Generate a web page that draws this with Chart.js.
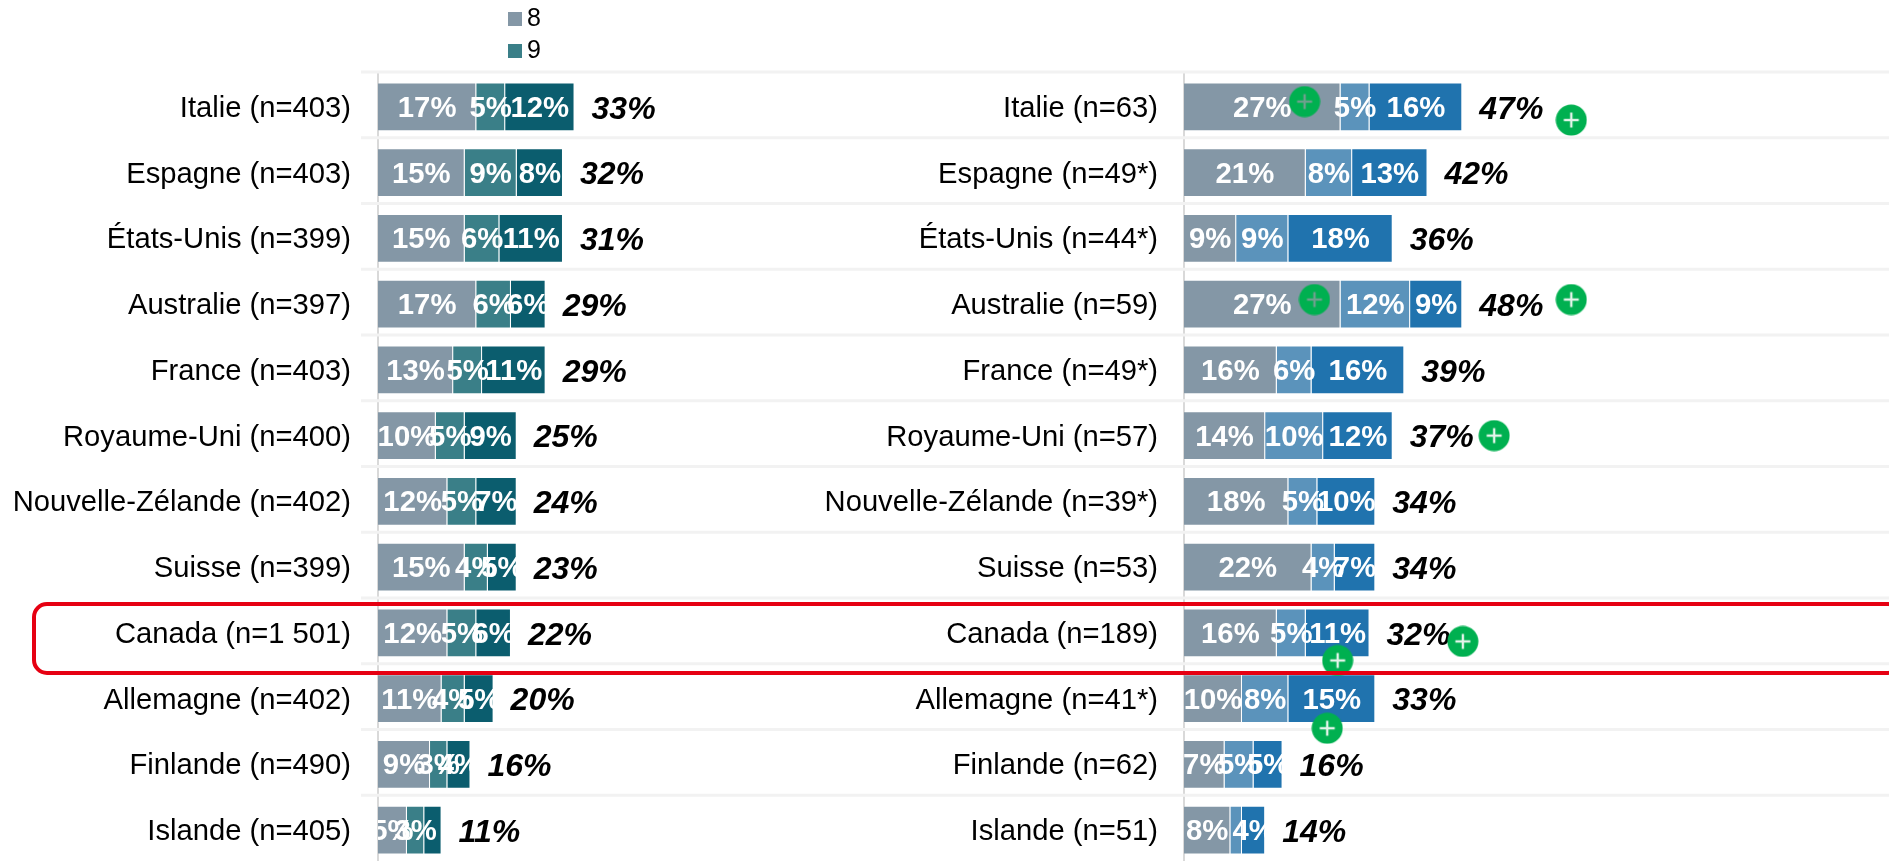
<!DOCTYPE html>
<html lang="fr">
<head>
<meta charset="utf-8">
<title>Chart</title>
<script src="https://cdn.jsdelivr.net/npm/chart.js@4/dist/chart.umd.min.js"></script>
<style>
html,body{margin:0;padding:0;width:1889px;height:861px;overflow:hidden;background:#fff}
canvas{position:absolute;top:0;display:block}
#leftChart{left:0}
#rightChart,#marksChart{left:815px}
#highlight{position:absolute;left:32px;top:602px;width:1871px;height:73px;box-sizing:border-box;border:4px solid #E60012;border-radius:15px;pointer-events:none}
</style>
</head>
<body>
<canvas id="leftChart" width="815" height="863"></canvas>
<canvas id="rightChart" width="1074" height="863"></canvas>
<canvas id="marksChart" width="1074" height="863"></canvas>
<div id="highlight"></div>
<script>
const legendLabels = ['8', '9'];

const leftCategories = ['Italie (n=403)','Espagne (n=403)','États-Unis (n=399)','Australie (n=397)','France (n=403)','Royaume-Uni (n=400)','Nouvelle-Zélande (n=402)','Suisse (n=399)','Canada (n=1 501)','Allemagne (n=402)','Finlande (n=490)','Islande (n=405)'];
const left8  = [17,15,15,17,13,10,12,15,12,11,9,5];
const left9  = [5,9,6,6,5,5,5,4,5,4,3,3];
const left10 = [12,8,11,6,11,9,7,5,6,5,4,3];
const leftTotals = [33,32,31,29,29,25,24,23,22,20,16,11];
const leftHiddenLabels = [[],[],[],[],[],[],[],[],[],[],[],[2]]; // last segment of Islande carries no label

const rightCategories = ['Italie (n=63)','Espagne (n=49*)','États-Unis (n=44*)','Australie (n=59)','France (n=49*)','Royaume-Uni (n=57)','Nouvelle-Zélande (n=39*)','Suisse (n=53)','Canada (n=189)','Allemagne (n=41*)','Finlande (n=62)','Islande (n=51)'];
const right8  = [27,21,9,27,16,14,18,22,16,10,7,8];
const right9  = [5,8,9,12,6,10,5,4,5,8,5,2];
const right10 = [16,13,18,9,16,12,10,7,11,15,5,4];
const rightTotals = [47,42,36,48,39,37,34,34,32,33,16,14];
const rightHiddenLabels = [[],[],[],[],[],[],[],[],[],[],[],[1]]; // 2% segment of Islande carries no label

// significance marks, in chart units (percent along the bar, row index)
const markPercent = [20.8,66.8,22.5,66.8,53.5,48.1,26.5,24.7];
const markRow     = [-0.08,0.2,2.93,2.93,5.0,8.13,8.42,9.45];
const markInsideBar = [true,false,true,false,false,false,false,false];

const FONT = '"Liberation Sans", Arial, sans-serif';
const RIGHT_AXIS_WIDTH = 369;
const RIGHT_MAX = 121.6;

function plusIcon(plusColor){
  const c = document.createElement('canvas');
  c.width = 32; c.height = 32;
  const g = c.getContext('2d');
  g.fillStyle = '#00B050';
  g.beginPath(); g.arc(16,16,15.5,0,Math.PI*2); g.fill();
  g.fillStyle = plusColor;
  g.fillRect(8.5,14.8,15,2.4);
  g.fillRect(14.8,8.5,2.4,15);
  return c;
}
const iconWhite = plusIcon('#E4F4EA');
const iconGrey = plusIcon('#6FA08E');

const rowLines = {
  id:'rowLines',
  beforeDatasetsDraw(chart,args,opts){
    const {ctx,scales:{y},chartArea:a} = chart;
    const rowH = y.getPixelForValue(1)-y.getPixelForValue(0);
    ctx.save();
    ctx.strokeStyle = '#F2F2F2';
    ctx.lineWidth = 3;
    y.getLabels().forEach((_,i)=>{
      const py = y.getPixelForValue(i)-rowH/2-2;
      ctx.beginPath();
      ctx.moveTo(opts.fromLeft ? a.left-17 : 0,py);
      ctx.lineTo(chart.width,py);
      ctx.stroke();
    });
    ctx.restore();
  }
};

const barText = {
  id:'barText',
  afterDatasetsDraw(chart,args,opts){
    const {ctx,chartArea:a} = chart;
    const barSets = chart.data.datasets.map((d,i)=>i);
    const lastMeta = chart.getDatasetMeta(barSets[barSets.length-1]);
    opts.totals.forEach((total,row)=>{
      const endBar = lastMeta.data[row];
      ctx.save();
      ctx.beginPath();
      ctx.rect(a.left,endBar.y-endBar.height/2,endBar.x-a.left,endBar.height);
      ctx.clip();
      ctx.fillStyle = '#fff';
      ctx.font = 'bold 29.3px '+FONT;
      ctx.textAlign = 'center';
      ctx.textBaseline = 'middle';
      barSets.forEach(ds=>{
        if((opts.hidden && opts.hidden[row].includes(ds))) return;
        const el = chart.getDatasetMeta(ds).data[row];
        ctx.fillText(chart.data.datasets[ds].data[row]+'%',(el.x+el.base)/2,el.y+2);
      });
      ctx.restore();
      ctx.save();
      ctx.fillStyle = '#000';
      ctx.font = 'italic bold 32px '+FONT;
      ctx.textAlign = 'left';
      ctx.textBaseline = 'middle';
      ctx.fillText(total+'%',endBar.x+17,endBar.y+3);
      ctx.restore();
    });
  }
};

const smallLegend = {
  id:'smallLegend',
  afterDraw(chart,args,opts){
    if(!opts.labels) return;
    const ctx = chart.ctx;
    ctx.save();
    ctx.font = '25px '+FONT;
    ctx.textBaseline = 'middle';
    ctx.textAlign = 'left';
    opts.labels.forEach((t,i)=>{
      const cy = 19+i*32;
      ctx.fillStyle = chart.data.datasets[i].backgroundColor;
      ctx.fillRect(508,cy-7,14,14);
      ctx.fillStyle = '#000';
      ctx.fillText(t,527,cy);
    });
    ctx.restore();
  }
};

function build(id,cats,s8,s9,s10,colors,totals,axisWidth,maxPct,tickPadding,extra){
  const datasets = [s8,s9,s10].map((data,i)=>({
    label:['8','9','10'][i],
    data,
    backgroundColor:colors[i],
    borderColor:'rgba(255,255,255,0.2)',
    borderWidth:1,
    barPercentage:0.745,
    categoryPercentage:1
  }));
  return new Chart(document.getElementById(id),{
    type:'bar',
    data:{labels:cats,datasets},
    plugins:[rowLines,barText,smallLegend],
    options:{
      indexAxis:'y',
      responsive:false,
      animation:false,
      events:[],
      layout:{autoPadding:false,padding:{top:74,left:0,right:0,bottom:0}},
      scales:{
        x:{type:'linear',stacked:true,display:false,min:0,max:maxPct},
        y:{
          type:'category',stacked:true,
          grid:{display:false,drawTicks:false},
          border:{display:true,color:'#D9D9D9',width:2},
          ticks:{color:'#000',font:{family:FONT,size:29.2},padding:tickPadding,autoSkip:false,labelOffset:2},
          afterFit(s){s.width = axisWidth; s.paddingTop = 0; s.paddingBottom = 0;}
        }
      },
      plugins:{
        legend:{display:false},
        tooltip:{enabled:false},
        barText:{totals,hidden:extra.hidden},
        rowLines:{fromLeft:extra.fromLeft},
        smallLegend:{labels:extra.legend}
      }
    }
  });
}

build('leftChart',leftCategories,left8,left9,left10,['#8497A6','#3A7F88','#0B5D6E'],leftTotals,378,75.6,27,{fromLeft:true,legend:legendLabels,hidden:leftHiddenLabels});
build('rightChart',rightCategories,right8,right9,right10,['#8497A6','#5B93BB','#2073AE'],rightTotals,RIGHT_AXIS_WIDTH,RIGHT_MAX,26,{fromLeft:false,hidden:rightHiddenLabels});

new Chart(document.getElementById('marksChart'),{
  type:'scatter',
  data:{datasets:[{
    label:'significant',
    data:markPercent.map((x,i)=>({x,y:markRow[i]})),
    pointStyle:markInsideBar.map(b=>b?iconGrey:iconWhite),
    pointRadius:15
  }]},
  options:{
    responsive:false,
    animation:false,
    events:[],
    layout:{autoPadding:false,padding:{top:74,left:RIGHT_AXIS_WIDTH,right:0,bottom:0}},
    scales:{
      x:{type:'linear',display:false,min:0,max:RIGHT_MAX},
      y:{type:'linear',display:false,reverse:true,min:-0.5,max:11.5}
    },
    plugins:{legend:{display:false},tooltip:{enabled:false}}
  }
});
</script>
</body>
</html>
